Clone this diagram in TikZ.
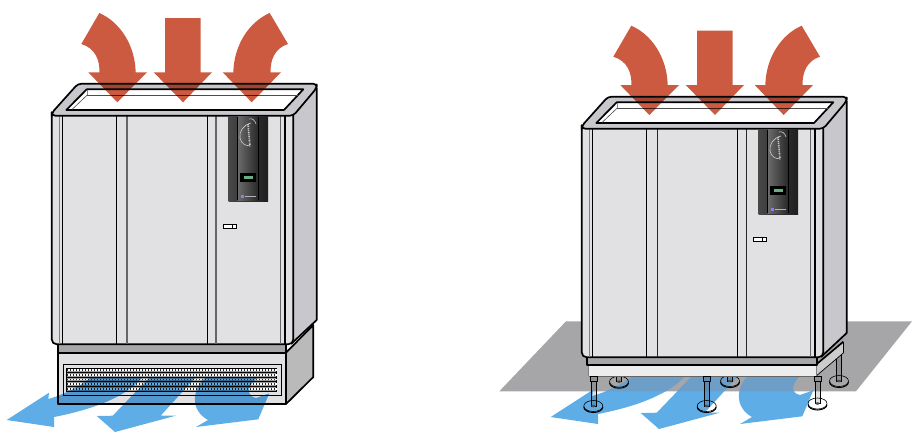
\documentclass[tikz,border=0pt]{standalone}
\usepackage{tikz}
\usetikzlibrary{calc}

\definecolor{airred}{HTML}{CB5A40}
\definecolor{airblue}{HTML}{5FADE6}
\definecolor{airfloor}{HTML}{6C9EC8}
\definecolor{frontgray}{HTML}{E1E1E3}
\definecolor{sidegray}{HTML}{C8C8CC}
\definecolor{basegray}{HTML}{A6A6A8}
\definecolor{lcdgreen}{HTML}{6AAE85}

\tikzset{
  outline/.style={draw=black, line width=1.7pt, line join=round},
  seam/.style={black, line width=1.5pt},
  softseam/.style={black!60, line width=1.5pt},
  redair/.style={fill=airred, blend mode=multiply},
  blueair/.style={fill=airblue, blend mode=multiply},
  foot/.style={draw=black, line width=0.6pt},
  leg/.style={draw=black, line width=0.6pt, fill=black!12, blend mode=multiply},
  % Cabinet body with its display panel
  cabinet/.pic={
    % Side and front
    \fill[sidegray] (293.3,115) -- (316.7,88) -- (316.7,320) -- (293.3,343) -- cycle;
    \draw[outline] (316.7,88) -- (316.7,320) -- (291,344);
    \draw[outline, fill=frontgray, rounded corners=5pt]
      (51.7,112) -- (51.7,344.3) -- (293.3,344.3) -- (293.3,112);
    % Door seams
    \draw[black!50, line width=0.7pt] (59.3,115) -- (59.3,344);
    \draw[seam] (62.7,115) -- (62.7,344);
    \draw[seam] (116.7,115) -- (116.7,344);
    \draw[softseam] (127,115) -- (127,344);
    \draw[seam] (207.7,115) -- (207.7,344);
    \draw[softseam] (216,115) -- (216,344);
    \draw[black!60, line width=0.7pt] (280.3,115) -- (280.3,344);
    \draw[seam] (285,115) -- (285,344);
    % Top frame
    \draw[outline, fill=sidegray, rounded corners=3.5pt]
      (51.7,113) -- (78,83.7) -- (316.7,83.7) -- (316.7,88) -- (293.3,115.7) -- (51.7,115.7) -- cycle;
    \draw[outline, fill=white] (66.3,110) -- (86.7,89.3) -- (303.3,89.3) -- (284,110) -- cycle;
    \draw[black!70, line width=0.7pt] (87.3,95) -- (297.7,95);
    \draw[black!70, line width=0.6pt] (87.3,89.5) -- (87.3,95) -- (72,109.5);
    % Display panel
    \shade[left color=black!72, right color=black!88] (228.7,116.5) rectangle (268,201.7);
    \shade[left color=black!58, right color=black!85] (237.7,116.5) rectangle (258.7,200);
    \draw[black, line width=0.5pt] (237.7,116.5) -- (237.7,200) (258.7,116.5) -- (258.7,200);
    \draw[white!80!black, line width=0.6pt]
      (249,119) .. controls (252,118) and (255,120) .. (256,124)
      (251,123) .. controls (243,125) and (239,132) .. (240,138)
      .. controls (241,144) and (247,147) .. (250,145);
    \draw[white!80!black, line width=1.6pt, dash pattern=on 1.5pt off 0.7pt on 0.7pt off 1pt] (248,124) -- (250,147);
    \fill[black] (240,173.3) rectangle (256,181.7);
    \fill[lcdgreen] (244,175.7) rectangle (252.7,179.3);
    \fill[blue!50!white] (240.5,195) rectangle (243.5,198);
    \draw[white!70!black, line width=0.4pt] (244.5,196.5) -- (255.5,196.5);
    % Handle
    \draw[black, line width=0.9pt, fill=white] (223.3,224) rectangle (236,228.7);
    \draw[black, line width=0.9pt] (232.3,224) -- (232.3,228.7);
  },
  % Three inlet arrows
  inlet/.pic={
    \path[redair] (99.3,13) -- (81.3,44) .. controls (95,48) and (100,60) .. (99.3,72.3)
      -- (88.3,72.3) -- (117.3,102.3) -- (147,72.3) -- (135.7,72.3)
      .. controls (135,45) and (120,22) .. (99.3,13) -- cycle;
    \path[redair] (165,18) -- (200.7,18) -- (200.7,72.3) -- (212,72.3) -- (183,102.3)
      -- (153.7,72.3) -- (165,72.3) -- cycle;
    \path[redair] (269.7,13) -- (288,44) .. controls (275,48) and (270,60) .. (270.7,72.3)
      -- (281,72.3) -- (251.7,102.3) -- (222.7,72.3) -- (233.3,72.3)
      .. controls (234,45) and (249,22) .. (269.7,13) -- cycle;
  },
  % Three outlet arrows
  outlet/.pic={
    \path[blueair] (90,378) .. controls (78,388) and (62,395) .. (48.3,399) -- (49,392.7)
      -- (6.7,420) -- (54,427) -- (54,417)
      .. controls (90,410) and (125,398) .. (141.7,378) -- cycle;
    \path[blueair] (149,378) -- (112.7,415.7) -- (96.7,416) -- (115,432)
      -- (175.7,415.7) -- (160.7,415.7) -- (195,378) -- cycle;
    \path[blueair] (205,378) .. controls (192,390) and (190,410) .. (208,420)
      -- (196,427) -- (258.3,419.3) -- (269.3,393.3) -- (256,398)
      .. controls (247,396) and (246,388) .. (257,378) -- cycle;
  }
}

\begin{document}
\begin{tikzpicture}[x=1pt, y=-1pt]
  \useasboundingbox (0,0) rectangle (912,432);

  % Left unit: plinth with grille
  \fill[black!27] (286,352.7) -- (313.3,325) -- (313.3,377) -- (286,404) -- cycle;
  \draw[outline] (286,352.7) -- (313.3,325) -- (313.3,377) -- (286,404);
  \draw[outline, fill=frontgray] (57.7,352.7) rectangle (286,404);
  \draw[outline, fill=basegray] (57.7,344.3) rectangle (286,352.7);
  \draw[black, line width=0.9pt] (63.7,364.3) rectangle (281,395);
  \draw[black, line width=0.7pt, fill=black!40] (66.7,368) rectangle (276.7,391.7);
  % Grille slats
  \foreach \y in {370,375,379.5,384,389}{
    \draw[white, line width=1.4pt] (67,\y) -- (276.5,\y);
    \draw[black!85, line width=1.8pt, dash pattern=on 1pt off 2pt] (67,\y) -- (276.5,\y);
  }
  \foreach \y in {372.5,377.2,381.8,386.4}{
    \draw[black, line width=0.9pt] (66,\y) -- (277,\y);
  }
  \pic at (0,0) {outlet};
  \pic at (0,0) {cabinet};
  \pic at (0,0) {inlet};

  % Right unit: floor
  \fill[basegray] (566,321.3) -- (912,321.3) -- (856,391.3) -- (499.3,391.3) -- cycle;

  % Right unit: outlet arrows, paler over the floor
  \begin{scope}[blueair/.style={fill=airblue}]
    \pic at (544,-3) {outlet};
  \end{scope}
  \begin{scope}[blueair/.style={fill=airfloor}]
    \clip (566,321.3) -- (912,321.3) -- (856,391.3) -- (499.3,391.3) -- cycle;
    \pic at (544,-3) {outlet};
  \end{scope}

  % Right unit: rear feet
  \foreach \x/\y/\t in {619/381.7/365, 730/381/365, 839/381/353}{
    \draw[foot] (\x,\y) ellipse (9.5 and 5.5);
    \draw[foot, line width=1pt] (\x-9.5,\y+1) arc (180:0:9.5 and 5.5);
    \draw[leg] (\x-2.5,\t) rectangle (\x+2.5,\y);
    \fill[black!70] (\x,\y) ellipse (2 and 1.3);
  }

  % Right unit: stand
  \fill[black!20] (816.7,363) -- (843.3,341.7) -- (843.3,353) -- (816.7,375.5) -- cycle;
  \draw[black, line width=0.7pt] (816.7,375.5) -- (843.3,353);
  \draw[black, line width=0.7pt] (843.3,341.7) -- (843.3,353);
  \fill[black!7] (588.7,365) rectangle (816.7,376);
  \draw[black!60, line width=1pt] (588.7,376) -- (816.7,376);
  \draw[black!50, line width=0.5pt] (588.7,365) -- (588.7,376) (816.7,365) -- (816.7,376);

  % Right unit: front feet
  \foreach \x/\y in {593.3/406, 706.7/406, 817.5/403.5}{
    \draw[foot] (\x,\y) ellipse (9.5 and 5.5);
    \draw[foot, line width=1pt] (\x-9.5,\y+1) arc (180:0:9.5 and 5.5);
    \draw[leg] (\x-2.5,381) rectangle (\x+2.5,\y);
    \draw[leg] (\x-3.5,376) rectangle (\x+3.5,381);
    \fill[black!70] (\x,\y) ellipse (2 and 1.3);
  }

  % Right unit: cabinet and arrows
  \draw[outline, fill=basegray] (587.3,356) rectangle (816.7,365);
  \draw[outline] (816.7,364) -- (843.3,341.7);
  \begin{scope}[softseam/.style={black!85, line width=0.9pt},
                seam/.style={black, line width=1.1pt}]
    \pic at (530,13) {cabinet};
  \end{scope}
  \pic at (532,12.7) {inlet};
\end{tikzpicture}
\end{document}
